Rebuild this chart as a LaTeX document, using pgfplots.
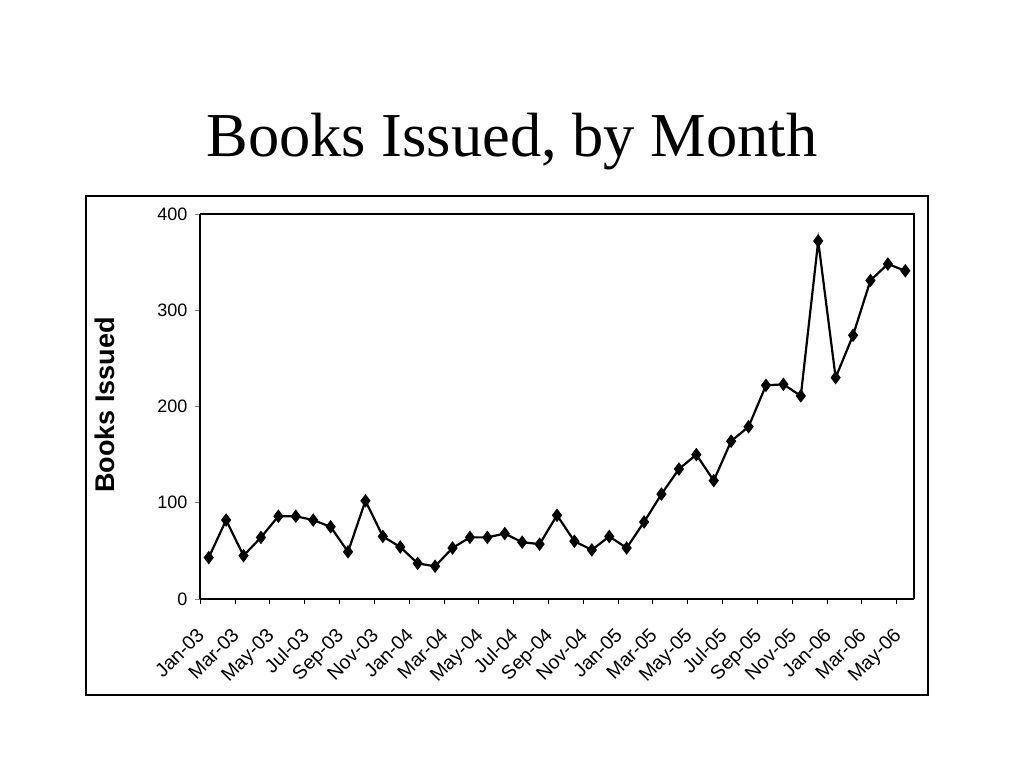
\documentclass[border=0pt]{standalone}
\usepackage{fontspec}
\setmainfont{Liberation Sans}
\newfontfamily\titlefont{Liberation Serif}
\usepackage{pgfplots}
\pgfplotsset{compat=1.18}
\begin{document}
\begin{tikzpicture}[x=1pt,y=1pt]
\path[fill=white] (0,0) rectangle (1024,768);
\node[anchor=base,font=\titlefont\fontsize{62.5}{70}\selectfont] at (512,611) {Books Issued, by Month};
\draw[line width=2pt] (86,73) rectangle (928,572);
\begin{axis}[
  at={(200pt,169pt)}, anchor=south west,
  scale only axis, width=714pt, height=385pt,
  xmin=-0.5, xmax=40.5, ymin=0, ymax=400,
  axis line style={line width=1.8pt},
  ytick={0,100,200,300,400},
  xtick={0,2,...,40},
  xticklabels={Jan-03,Mar-03,May-03,Jul-03,Sep-03,Nov-03,Jan-04,Mar-04,May-04,Jul-04,Sep-04,Nov-04,Jan-05,Mar-05,May-05,Jul-05,Sep-05,Nov-05,Jan-06,Mar-06,May-06},
  x tick label style={xshift=-13pt, yshift=-18pt, rotate=45, anchor=north east, font=\fontsize{19.5}{21}\selectfont},
  y tick label style={font=\fontsize{18}{20}\selectfont, xshift=-4pt},
  /pgf/number format/assume math mode=true,
  xtick style={draw=none},
  extra x ticks={-0.5,1.5,...,39.5},
  extra x tick labels={},
  extra x tick style={xtick style={draw=black, line width=0.6pt}, major tick length=5pt},
  tick align=outside,
  ytick style={line width=0.6pt},
  major tick length=5pt,
  axis x line*=bottom, axis y line*=left,
  ylabel={\textbf{Books Issued}},
  ylabel style={font=\fontsize{27}{30}\selectfont, at={(axis description cs:-0.115,0.504)}},
  clip=false,
]
\draw[line width=1.8pt] (rel axis cs:0,1) -- (rel axis cs:1,1) -- (rel axis cs:1,0);
\addplot[black, line width=2.2pt, mark=diamond*, mark size=5pt] coordinates {
(0,43) (1,82) (2,45) (3,64) (4,86) (5,86) (6,82) (7,75) (8,49) (9,102)
(10,65) (11,54) (12,37) (13,34) (14,53) (15,64) (16,64) (17,68) (18,59) (19,57)
(20,87) (21,60) (22,51) (23,65) (24,53) (25,80) (26,109) (27,135) (28,150) (29,123)
(30,164) (31,179) (32,222) (33,223) (34,211) (35,372) (36,230) (37,274) (38,331) (39,348)
(40,341)
};
\end{axis}
\end{tikzpicture}
\end{document}
